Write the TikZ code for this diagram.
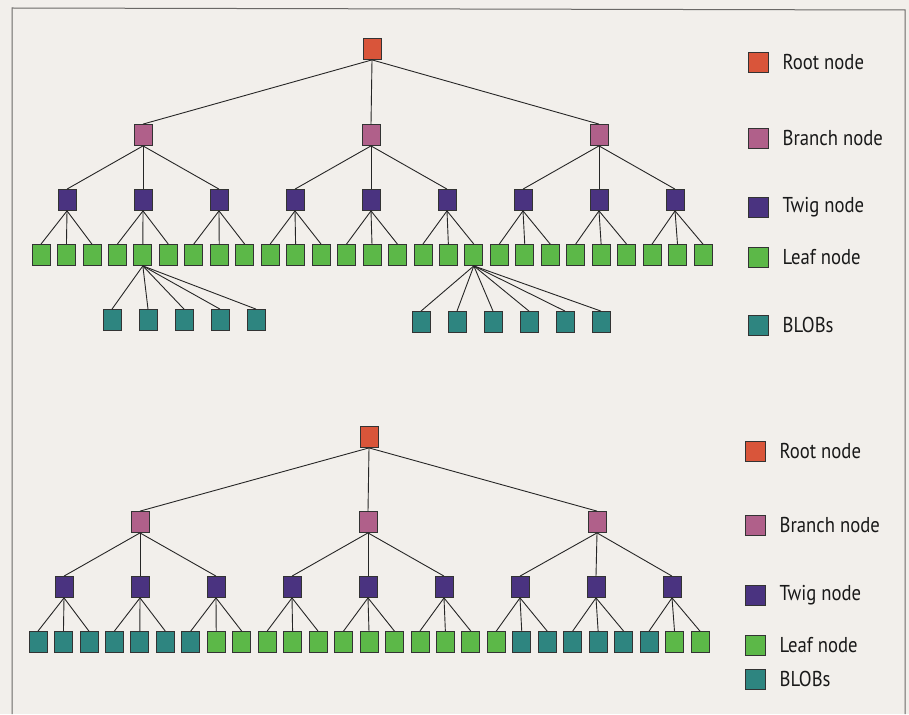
\documentclass[tikz,border=0pt]{standalone}
\usepackage{fontspec}
\usepackage{graphicx}
\newfontfamily\legendfont{PT Sans}
\usetikzlibrary{positioning}
\definecolor{paper}{HTML}{F2EFEB}
\definecolor{framec}{HTML}{6A6866}
\definecolor{rootc}{HTML}{D9553A}
\definecolor{branchc}{HTML}{B0608A}
\definecolor{twigc}{HTML}{4A3380}
\definecolor{leafc}{HTML}{5CB848}
\definecolor{blobc}{HTML}{2E8580}
\newcommand\keylabel[1]{\scalebox{0.87}[1]{#1}}

\begin{document}
\begin{tikzpicture}[
  x=1pt,y=-1pt,
  sq/.style={draw=black!80,line width=0.8pt,minimum width=18pt,minimum height=21pt,inner sep=0},
  key/.style={draw=black!80,line width=0.8pt,minimum size=20pt,inner sep=0},
  keytxt/.style={inner sep=0,font=\legendfont\fontsize{21.5}{25}\selectfont,text=black!90},
  edge/.style={draw=black!85,line width=0.9pt},
]
  \useasboundingbox[fill=paper] (0,0) rectangle (909,714);
  \draw[framec,line width=1pt] (12,714) -- (12,8) -- (905,10) -- (905,714);

  % upper tree
  \node[sq,fill=rootc] (rA) at (372,49) {};
  \foreach \i/\x in {0/143,1/371,2/599} {
    \node[sq,fill=branchc] (bA\i) at (\x,135) {};
    \draw[edge] (rA.south) -- (bA\i.north);
  }
  \foreach \j in {0,...,8} {
    \pgfmathtruncatemacro\p{\j/3}
    \node[sq,fill=twigc] (wA\j) at ({67+76*\j},200) {};
    \draw[edge] (bA\p.south) -- (wA\j.north);
  }
  \foreach \k in {0,...,26} {
    \pgfmathtruncatemacro\p{\k/3}
    \node[sq,fill=leafc] (lA\k) at ({41+25.46*\k},255) {};
    \draw[edge] (wA\p.south) -- (lA\k.north);
  }
  \foreach \i in {0,...,4} {
    \node[sq,fill=blobc] (xA\i) at ({112+36*\i},320) {};
    \draw[edge] (lA4.south) -- (xA\i.north);
  }
  \foreach \i in {0,...,5} {
    \node[sq,fill=blobc] (yA\i) at ({421+36*\i},322) {};
    \draw[edge] (lA17.south) -- (yA\i.north);
  }
  \foreach \n/\y/\c/\t in {1/62/rootc/Root node,2/138/branchc/Branch node,
      3/207/twigc/Twig node,4/257/leafc/Leaf node,5/325/blobc/BLOBs} {
    \node[key,fill=\c] (kA\n) at (758,\y) {};
    \node[keytxt,right=14pt of kA\n] (tA\n) {\keylabel{\t}};
  }

  % lower tree, BLOBs stored in the leaf row
  \node[sq,fill=rootc] (rB) at (369,437) {};
  \foreach \i/\x in {0/140,1/368,2/597} {
    \node[sq,fill=branchc] (bB\i) at (\x,522) {};
    \draw[edge] (rB.south) -- (bB\i.north);
  }
  \foreach \j in {0,...,8} {
    \pgfmathtruncatemacro\p{\j/3}
    \node[sq,fill=twigc] (wB\j) at ({64+76*\j},587) {};
    \draw[edge] (bB\p.south) -- (wB\j.north);
  }
  \foreach \k in {0,...,26} {
    \pgfmathtruncatemacro\p{\k/3}
    \def\fc{leafc}
    \ifnum\k<7 \def\fc{blobc}\fi
    \ifnum\k>18 \ifnum\k<25 \def\fc{blobc}\fi\fi
    \node[sq,fill=\fc] (lB\k) at ({38+25.46*\k},642) {};
    \draw[edge] (wB\p.south) -- (lB\k.north);
  }
  \foreach \n/\y/\c/\t in {1/451/rootc/Root node,2/525/branchc/Branch node,
      3/595/twigc/Twig node,4/645/leafc/Leaf node,5/679/blobc/BLOBs} {
    \node[key,fill=\c] (kB\n) at (755,\y) {};
    \node[keytxt,right=14pt of kB\n] (tB\n) {\keylabel{\t}};
  }
\end{tikzpicture}
\end{document}
